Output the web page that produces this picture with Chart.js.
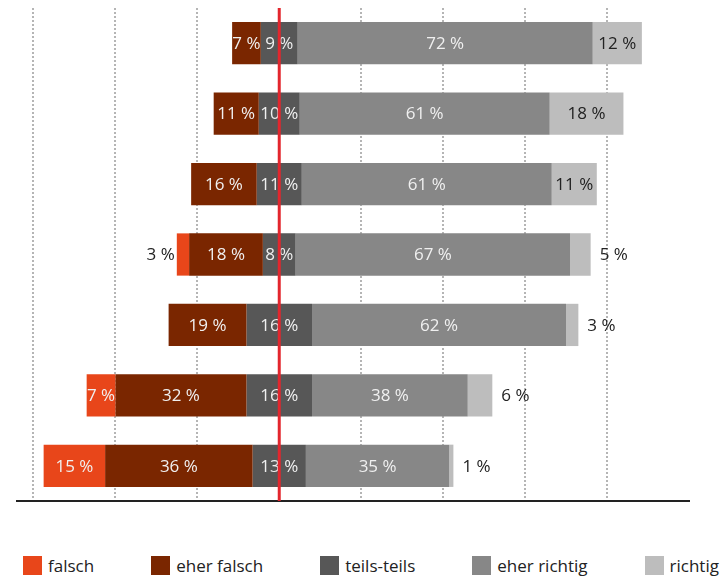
<!DOCTYPE html>
<html>
<head>
<meta charset="utf-8">
<script src="https://cdn.jsdelivr.net/npm/chart.js@4"></script>
<style>
body { margin: 0; background: #fff; font-family: "Open Sans", sans-serif; }
#wrap { position: relative; width: 724px; height: 540px; }
#legend { position: absolute; left: 23px; right: 5px; top: 556px; display: flex; justify-content: space-between; font-size: 17px; line-height: 19px; color: #222; }
.item { display: flex; align-items: center; }
.box { width: 19px; height: 19px; margin-right: 6px; }
</style>
</head>
<body>
<div id="wrap"><canvas id="likert"></canvas></div>
<div id="legend"></div>
<script>
var categories = ["1", "2", "3", "4", "5", "6", "7"];
var seriesNames = ["falsch", "eher falsch", "teils-teils", "eher richtig", "richtig"];
var falsch = [0, 0, 0, 3, 0, 7, 15];
var eherFalsch = [7, 11, 16, 18, 19, 32, 36];
var teilsTeils = [9, 10, 11, 8, 16, 16, 13];
var eherRichtig = [72, 61, 61, 67, 62, 38, 35];
var richtig = [12, 18, 11, 5, 3, 6, 1];
var gridTicks = [-60, -40, -20, 0, 20, 40, 60, 80];
var colors = ["#e8461a", "#7a2600", "#575757", "#878787", "#bdbdbd"];
var labelColors = ["#f0f0f0", "#f0f0f0", "#f0f0f0", "#f0f0f0", "#222"];

// teils-teils sits centred on zero, the rest stacks outwards
var ranges = [[], [], [], [], []];
for (var i = 0; i < categories.length; i++) {
  var h = teilsTeils[i] / 2;
  ranges[2].push([-h, h]);
  ranges[1].push([-h - eherFalsch[i], -h]);
  ranges[0].push([-h - eherFalsch[i] - falsch[i], -h - eherFalsch[i]]);
  ranges[3].push([h, h + eherRichtig[i]]);
  ranges[4].push([h + eherRichtig[i], h + eherRichtig[i] + richtig[i]]);
}
var values = [falsch, eherFalsch, teilsTeils, eherRichtig, richtig];

var barLabels = {
  id: "barLabels",
  afterDatasetsDraw: function (chart) {
    var ctx = chart.ctx;
    ctx.save();
    ctx.font = '17px "Open Sans"';
    ctx.textBaseline = "middle";
    chart.data.datasets.forEach(function (ds, di) {
      chart.getDatasetMeta(di).data.forEach(function (bar, i) {
        var v = ds.values[i];
        if (!v) return;
        var txt = v + " %";
        var left = Math.min(bar.x, bar.base), right = Math.max(bar.x, bar.base);
        var w = ctx.measureText(txt).width;
        if (right - left >= w - 3) {
          ctx.textAlign = "center";
          ctx.fillStyle = ds.labelColor;
          ctx.fillText(txt, (left + right) / 2, bar.y + 1);
        } else if (di === 0) {
          ctx.textAlign = "right";
          ctx.fillStyle = "#222";
          ctx.fillText(txt, left - 2, bar.y + 1);
        } else {
          ctx.textAlign = "left";
          ctx.fillStyle = "#222";
          ctx.fillText(txt, right + 9, bar.y + 1);
        }
      });
    });
    // red zero line on top
    var x0 = chart.scales.x.getPixelForValue(0);
    ctx.strokeStyle = "#e3262d";
    ctx.lineWidth = 3;
    ctx.beginPath();
    ctx.moveTo(x0, chart.chartArea.top);
    ctx.lineTo(x0, chart.chartArea.bottom);
    ctx.stroke();
    ctx.restore();
  }
};

var datasets = seriesNames.map(function (name, k) {
  return {
    label: name,
    data: ranges[k],
    values: values[k],
    backgroundColor: colors[k],
    labelColor: labelColors[k],
    borderWidth: 0,
    grouped: false,
    barPercentage: 0.6,
    categoryPercentage: 1
  };
});

new Chart(document.getElementById("likert"), {
  type: "bar",
  data: { labels: categories, datasets: datasets },
  options: {
    indexAxis: "y",
    responsive: true,
    maintainAspectRatio: false,
    animation: false,
    layout: { padding: { left: 17, right: 35, top: 8, bottom: 39 } },
    plugins: { legend: { display: false }, tooltip: { enabled: false } },
    scales: {
      x: {
        min: -64,
        max: 100,
        afterBuildTicks: function (scale) {
          scale.ticks = gridTicks.map(function (v) { return { value: v }; });
        },
        ticks: { display: false },
        grid: { color: "#b5b5b5", lineWidth: 2, drawTicks: false },
        border: { display: true, color: "#222", width: 2, dash: [2, 2] }
      },
      y: { display: false }
    }
  },
  plugins: [barLabels]
});

var legend = document.getElementById("legend");
seriesNames.forEach(function (name, k) {
  var item = document.createElement("div");
  item.className = "item";
  item.innerHTML = '<span class="box" style="background:' + colors[k] + '"></span>' + name;
  legend.appendChild(item);
});
</script>
</body>
</html>
